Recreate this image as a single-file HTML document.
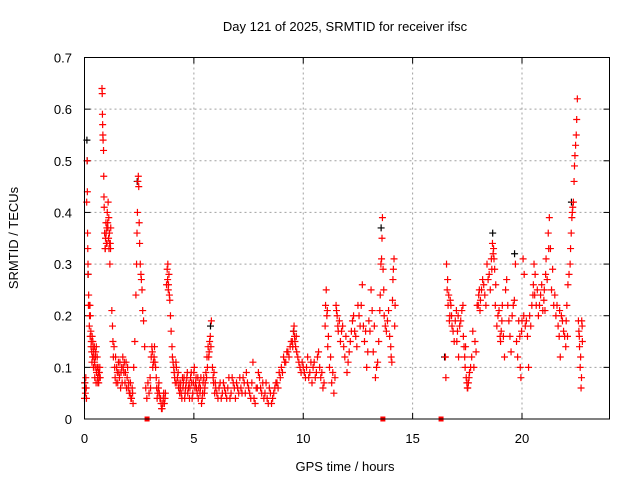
<!DOCTYPE html>
<html><head><meta charset="utf-8"><style>
body{margin:0;background:#fff;}
svg{display:block;font-family:"Liberation Sans",sans-serif;}
</style></head><body>
<svg id="chart" width="640" height="480">
<text x="345" y="31" font-size="13" text-anchor="middle" fill="#000">Day 121 of 2025, SRMTID for receiver ifsc</text>
<text x="345" y="471" font-size="13" text-anchor="middle" fill="#000">GPS time / hours</text>
<text transform="translate(18,238) rotate(-90)" font-size="13" text-anchor="middle" fill="#000">SRMTID / TECUs</text>
<g id="grid"></g>
<g id="axes"></g>
<g id="marks"></g>
<rect x="84.5" y="57.5" width="525" height="361.5" fill="none" stroke="#000" stroke-width="1"/>
</svg>
<script>
const xTicks=[0,5,10,15,20];
const yTicks=[0,0.1,0.2,0.3,0.4,0.5,0.6,0.7];
const yTickLabels=["0","0.1","0.2","0.3","0.4","0.5","0.6","0.7"];
const hours=[0.00,0.02,0.04,0.06,0.08,0.10,0.12,0.13,0.14,0.15,0.16,0.17,0.19,0.21,0.23,0.25,0.27,0.29,0.31,0.33,0.35,0.37,0.39,0.41,0.43,0.45,0.47,0.49,0.51,0.53,0.55,0.58,0.60,0.62,0.65,0.68,0.72,0.80,0.81,0.82,0.83,0.84,0.85,0.87,0.88,0.89,0.90,0.92,0.94,0.96,0.98,1.00,1.02,1.04,1.06,1.08,1.10,1.12,1.14,1.16,1.18,1.20,1.25,1.28,1.30,1.32,1.35,1.38,1.40,1.45,1.50,1.55,1.60,1.65,1.70,1.75,1.80,1.85,1.90,1.95,2.00,2.05,2.10,2.15,2.20,2.25,2.30,2.35,2.38,2.40,2.42,2.44,2.46,2.48,2.50,2.52,2.55,2.58,2.60,2.63,2.66,2.70,2.75,2.80,2.85,2.90,2.95,3.00,3.05,3.10,3.15,3.20,3.25,3.30,3.35,3.40,3.45,3.50,3.55,3.60,3.65,3.70,3.75,3.78,3.80,3.83,3.86,3.90,3.93,3.96,4.00,4.05,4.10,4.15,4.20,4.25,4.30,4.35,4.40,4.45,4.50,4.55,4.60,4.65,4.70,4.75,4.80,4.85,4.90,4.95,5.00,5.05,5.10,5.15,5.20,5.25,5.30,5.35,5.40,5.45,5.50,5.55,5.60,5.65,5.70,5.75,5.80,5.85,5.90,5.95,6.00,6.10,6.20,6.30,6.40,6.50,6.60,6.70,6.80,6.90,7.00,7.10,7.20,7.30,7.40,7.50,7.60,7.70,7.80,7.90,8.00,8.10,8.20,8.30,8.40,8.50,8.60,8.70,8.80,8.90,9.00,9.10,9.20,9.30,9.40,9.50,9.55,9.60,9.65,9.70,9.80,9.90,10.00,10.10,10.20,10.30,10.40,10.50,10.60,10.70,10.80,10.90,11.00,11.05,11.10,11.15,11.20,11.30,11.40,11.50,11.55,11.60,11.70,11.80,11.90,12.00,12.10,12.20,12.30,12.40,12.50,12.60,12.70,12.80,12.90,13.00,13.10,13.20,13.30,13.40,13.50,13.55,13.60,13.62,13.65,13.70,13.80,13.90,14.00,14.05,14.10,14.15,14.20,16.50,16.52,16.55,16.60,16.65,16.70,16.75,16.80,16.90,17.00,17.05,17.10,17.20,17.30,17.35,17.40,17.45,17.50,17.55,17.60,17.70,17.80,17.90,18.00,18.05,18.10,18.20,18.30,18.40,18.50,18.60,18.65,18.70,18.75,18.80,18.90,19.00,19.05,19.10,19.20,19.30,19.40,19.50,19.60,19.70,19.80,19.90,19.95,20.00,20.05,20.10,20.20,20.30,20.40,20.50,20.55,20.60,20.70,20.80,20.90,21.00,21.05,21.10,21.20,21.25,21.30,21.40,21.50,21.60,21.70,21.75,21.80,21.90,22.00,22.05,22.10,22.20,22.25,22.30,22.35,22.40,22.45,22.50,22.53,22.60,22.63,22.66,22.70,22.73,22.76];
const srmtid=[0.04,0.07,0.05,0.08,0.06,0.42,0.50,0.44,0.36,0.33,0.30,0.28,0.24,0.22,0.20,0.22,0.20,0.17,0.15,0.13,0.16,0.12,0.14,0.10,0.12,0.14,0.08,0.10,0.13,0.07,0.09,0.12,0.08,0.10,0.07,0.09,0.08,0.64,0.63,0.59,0.57,0.55,0.54,0.52,0.47,0.43,0.41,0.36,0.33,0.35,0.38,0.34,0.37,0.40,0.38,0.42,0.35,0.33,0.36,0.30,0.34,0.37,0.21,0.18,0.15,0.12,0.14,0.10,0.08,0.07,0.09,0.11,0.08,0.06,0.10,0.12,0.09,0.07,0.11,0.08,0.06,0.05,0.07,0.04,0.05,0.10,0.15,0.24,0.30,0.36,0.40,0.46,0.47,0.45,0.38,0.34,0.30,0.28,0.27,0.25,0.21,0.19,0.14,0.06,0.04,0.07,0.05,0.08,0.12,0.13,0.11,0.14,0.10,0.06,0.05,0.07,0.04,0.03,0.02,0.04,0.03,0.05,0.26,0.29,0.27,0.25,0.28,0.23,0.20,0.17,0.14,0.11,0.09,0.07,0.10,0.08,0.06,0.05,0.07,0.04,0.06,0.08,0.05,0.07,0.09,0.06,0.04,0.08,0.07,0.05,0.09,0.06,0.08,0.05,0.04,0.07,0.06,0.03,0.05,0.08,0.06,0.09,0.12,0.14,0.13,0.16,0.19,0.10,0.07,0.05,0.06,0.04,0.07,0.05,0.06,0.04,0.08,0.05,0.07,0.04,0.06,0.08,0.05,0.07,0.09,0.06,0.04,0.11,0.03,0.06,0.08,0.05,0.04,0.07,0.03,0.05,0.04,0.06,0.07,0.09,0.10,0.12,0.11,0.13,0.14,0.15,0.17,0.16,0.14,0.13,0.11,0.09,0.10,0.08,0.12,0.09,0.07,0.11,0.09,0.13,0.08,0.06,0.18,0.25,0.21,0.16,0.10,0.07,0.05,0.22,0.20,0.17,0.15,0.18,0.12,0.09,0.13,0.17,0.20,0.16,0.22,0.18,0.26,0.15,0.10,0.19,0.25,0.13,0.08,0.11,0.21,0.30,0.35,0.39,0.29,0.20,0.17,0.21,0.14,0.11,0.27,0.31,0.22,0.12,0.08,0.30,0.27,0.24,0.20,0.22,0.18,0.15,0.21,0.17,0.12,0.19,0.22,0.14,0.10,0.08,0.06,0.07,0.09,0.12,0.10,0.13,0.22,0.25,0.23,0.27,0.24,0.30,0.28,0.31,0.34,0.33,0.29,0.26,0.20,0.16,0.17,0.22,0.12,0.27,0.19,0.13,0.22,0.30,0.12,0.16,0.08,0.19,0.31,0.28,0.19,0.10,0.18,0.24,0.30,0.28,0.25,0.22,0.26,0.23,0.21,0.31,0.36,0.39,0.33,0.29,0.24,0.22,0.16,0.12,0.20,0.17,0.14,0.22,0.26,0.30,0.36,0.40,0.42,0.49,0.53,0.58,0.62,0.17,0.14,0.10,0.06,0.19,0.15];
const hours2=[0.03,0.09,0.18,0.22,0.26,0.30,0.34,0.38,0.42,0.46,0.50,0.54,0.57,0.61,0.64,0.67,0.70,0.95,0.99,1.03,1.07,1.11,1.15,1.19,1.42,1.47,1.52,1.57,1.62,1.67,1.72,1.77,1.82,1.87,1.92,1.97,2.02,2.08,2.12,2.18,2.22,3.02,3.08,3.12,3.18,3.22,3.28,3.32,3.38,3.42,3.48,3.52,3.58,3.62,3.68,3.81,3.84,3.88,4.02,4.08,4.12,4.18,4.22,4.28,4.32,4.38,4.42,4.48,4.52,4.58,4.62,4.68,4.72,4.78,4.82,4.88,4.92,4.98,5.02,5.08,5.12,5.18,5.22,5.28,5.32,5.38,5.42,5.48,5.52,5.58,5.62,5.68,5.72,5.78,5.88,5.92,5.98,6.05,6.15,6.25,6.35,6.45,6.55,6.65,6.75,6.85,6.95,7.05,7.15,7.25,7.35,7.45,7.55,7.65,7.75,7.85,7.95,8.05,8.15,8.25,8.35,8.45,8.55,8.65,8.75,8.85,8.95,9.05,9.15,9.25,9.35,9.45,9.52,9.58,9.62,9.68,9.75,9.85,9.95,10.05,10.15,10.25,10.35,10.45,10.55,10.65,10.75,10.85,10.95,11.02,11.08,11.12,11.25,11.35,11.45,11.52,11.58,11.65,11.75,11.85,11.95,12.05,12.15,12.25,12.35,12.45,12.55,12.65,12.75,12.85,12.95,13.05,13.15,13.25,13.35,13.45,13.52,13.58,13.68,13.75,13.85,13.95,14.02,14.08,14.12,14.18,16.58,16.62,16.68,16.72,16.78,16.85,16.95,17.02,17.08,17.15,17.25,17.32,17.38,17.42,17.48,17.52,17.58,17.65,17.75,17.85,17.95,18.02,18.08,18.15,18.25,18.35,18.45,18.55,18.62,18.68,18.72,18.78,18.85,18.95,19.02,19.08,19.15,19.25,19.35,19.45,19.55,19.65,19.75,19.85,19.92,19.98,20.08,20.15,20.25,20.35,20.45,20.52,20.58,20.65,20.75,20.85,20.95,21.02,21.08,21.15,21.22,21.35,21.45,21.55,21.65,21.72,21.85,21.95,22.02,22.08,22.15,22.22,22.28,22.32,22.38,22.42,22.48,22.58,22.62,22.68,22.72,22.75];
const srmtid2=[0.06,0.04,0.22,0.18,0.16,0.14,0.11,0.15,0.13,0.11,0.12,0.14,0.10,0.07,0.09,0.08,0.10,0.33,0.36,0.34,0.37,0.39,0.34,0.33,0.12,0.10,0.07,0.09,0.11,0.09,0.07,0.10,0.11,0.09,0.06,0.10,0.07,0.05,0.04,0.06,0.03,0.06,0.14,0.10,0.12,0.11,0.08,0.04,0.06,0.05,0.04,0.02,0.03,0.05,0.04,0.30,0.26,0.24,0.12,0.10,0.08,0.11,0.07,0.09,0.07,0.06,0.05,0.08,0.07,0.04,0.06,0.08,0.05,0.07,0.06,0.09,0.04,0.07,0.10,0.07,0.06,0.08,0.06,0.05,0.08,0.04,0.07,0.05,0.07,0.08,0.10,0.12,0.15,0.14,0.08,0.09,0.07,0.05,0.06,0.04,0.07,0.05,0.06,0.04,0.08,0.06,0.07,0.05,0.06,0.08,0.05,0.07,0.05,0.07,0.04,0.06,0.09,0.06,0.07,0.05,0.04,0.06,0.03,0.05,0.07,0.06,0.08,0.09,0.11,0.13,0.12,0.15,0.14,0.18,0.15,0.16,0.12,0.10,0.11,0.09,0.10,0.08,0.11,0.10,0.08,0.12,0.10,0.09,0.07,0.22,0.20,0.14,0.12,0.09,0.08,0.21,0.18,0.19,0.17,0.14,0.16,0.11,0.15,0.19,0.17,0.14,0.20,0.22,0.18,0.17,0.13,0.17,0.21,0.18,0.10,0.15,0.24,0.31,0.25,0.18,0.19,0.16,0.12,0.23,0.29,0.18,0.25,0.22,0.19,0.23,0.20,0.17,0.19,0.15,0.20,0.18,0.21,0.16,0.12,0.14,0.07,0.06,0.08,0.10,0.17,0.15,0.22,0.24,0.21,0.25,0.26,0.22,0.27,0.25,0.29,0.32,0.31,0.22,0.18,0.21,0.15,0.19,0.16,0.25,0.22,0.16,0.20,0.23,0.15,0.19,0.10,0.17,0.20,0.18,0.16,0.20,0.22,0.26,0.24,0.22,0.20,0.24,0.21,0.25,0.28,0.27,0.33,0.25,0.22,0.20,0.18,0.21,0.19,0.16,0.19,0.16,0.28,0.33,0.39,0.41,0.46,0.51,0.55,0.19,0.16,0.12,0.08,0.18];
const blackHours=[0.05,0.15,0.16,0.20,2.45,5.80,9.60,13.60,16.50,18.70,19.70,22.30];
const blackValues=[0.07,0.54,0.50,0.28,0.46,0.18,0.17,0.37,0.12,0.36,0.32,0.42];
const zeroHours=[2.86,13.64,16.30];

const X0=84.5,X1=609.5,Y0=419,Y1=57.5,XMAX=24,YMAX=0.7;
const xs=h=>X0+(X1-X0)*h/XMAX;
const ys=v=>Y0-(Y0-Y1)*v/YMAX;
const NS="http://www.w3.org/2000/svg";
function mk(tag,attrs,parent){const e=document.createElementNS(NS,tag);for(const k in attrs)e.setAttribute(k,attrs[k]);parent.appendChild(e);return e;}
const grid=document.getElementById('grid'),axes=document.getElementById('axes'),marks=document.getElementById('marks');
xTicks.forEach((t,i)=>{
  const x=xs(t);
  if(t>0){const g=mk('line',{x1:x,x2:x,y1:Y1,y2:Y0,stroke:'#a0a0a0','stroke-dasharray':'2,3'},grid);
  
  }
  mk('line',{x1:x,x2:x,y1:Y0,y2:Y0-6,stroke:'#000'},axes);
  mk('line',{x1:x,x2:x,y1:Y1,y2:Y1+6,stroke:'#000'},axes);
  const l=mk('text',{x:x,y:443,'font-size':13,'text-anchor':'middle',fill:'#000'},axes);
  l.textContent=String(t);
  
  
});
yTicks.forEach((t,i)=>{
  const y=ys(t);
  if(t>0&&t<0.7){const g=mk('line',{x1:X0,x2:X1,y1:y,y2:y,stroke:'#a0a0a0','stroke-dasharray':'2,3'},grid);
  
  }
  mk('line',{x1:X0,x2:X0+6,y1:y,y2:y,stroke:'#000'},axes);
  mk('line',{x1:X1,x2:X1-6,y1:y,y2:y,stroke:'#000'},axes);
  const l=mk('text',{x:72,y:y+5,'font-size':13,'text-anchor':'end',fill:'#000'},axes);
  l.textContent=yTickLabels[i];
  
  
});
function plus(h,v,color,name){
  const x=xs(h),y=ys(v);
  const p=mk('path',{d:`M${x-3.5},${y}H${x+3.5}M${x},${y-3.5}V${y+3.5}`,stroke:color,'stroke-width':1.2,fill:'none'},marks);
  
  
}
blackHours.forEach((h,i)=>plus(h-0.04,blackValues[i],'#000','black-point'));
hours.forEach((h,i)=>plus(h,srmtid[i],'#ff0000','srmtid-point'));
hours2.forEach((h,i)=>plus(h,srmtid2[i],'#ff0000','srmtid-point'));
zeroHours.forEach(h=>{
  const r=mk('rect',{x:xs(h)-2.5,y:Y0-2.5,width:5,height:5,fill:'#ff0000'},marks);
  
  
});
</script>
</body></html>
